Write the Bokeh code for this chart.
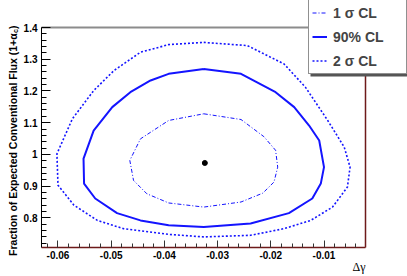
import math
from bokeh.plotting import figure
from bokeh.models import FixedTicker, Label, Legend, LegendItem, BoxAnnotation
from bokeh.embed import file_html
from bokeh.resources import INLINE

# ---- data ----
sig1_x = [-0.0326, -0.0256, -0.0213, -0.0191, -0.0187, -0.0194, -0.0215, -0.0256,
          -0.0326, -0.0392, -0.0433, -0.0458, -0.0465, -0.0445, -0.0392, -0.0326]
sig1_y = [1.128, 1.110, 1.056, 1.013, 0.960, 0.913, 0.878, 0.850,
          0.834, 0.847, 0.876, 0.918, 0.981, 1.049, 1.107, 1.128]

cl90_x = [-0.0326, -0.0256, -0.0191, -0.0156, -0.0128, -0.0109, -0.0100, -0.0106,
          -0.0122, -0.0166, -0.0238, -0.0326, -0.0392, -0.0445, -0.0489, -0.0530,
          -0.0551, -0.0552, -0.0533, -0.0498, -0.0464, -0.0426, -0.0392, -0.0326]
cl90_y = [1.269, 1.254, 1.196, 1.149, 1.091, 1.044, 0.960, 0.908,
          0.861, 0.815, 0.782, 0.771, 0.777, 0.792, 0.815, 0.861,
          0.908, 0.987, 1.075, 1.149, 1.196, 1.233, 1.254, 1.269]

sig2_x = [-0.0326, -0.0244, -0.0175, -0.0135, -0.0093, -0.0062, -0.0051, -0.0056,
          -0.0084, -0.0125, -0.0175, -0.0238, -0.0326, -0.0392, -0.0477, -0.0526,
          -0.0570, -0.0600, -0.0602, -0.0573, -0.0533, -0.0495, -0.0445, -0.0392, -0.0326]
sig2_y = [1.353, 1.343, 1.285, 1.212, 1.107, 1.023, 0.960, 0.897,
          0.834, 0.792, 0.766, 0.745, 0.740, 0.748, 0.766, 0.792,
          0.840, 0.903, 1.002, 1.112, 1.201, 1.264, 1.322, 1.346, 1.353]

best_x = [-0.0324]
best_y = [0.973]

x_ticks = [-0.06, -0.05, -0.04, -0.03, -0.02, -0.01]
x_tick_labels = ["-0.06", "-0.05", "-0.04", "-0.03", "-0.02", "-0.01"]
y_ticks = [0.8, 0.9, 1.0, 1.1, 1.2, 1.3, 1.4]
y_tick_labels = ["0.8", "0.9", "1", "1.1", "1.2", "1.3", "1.4"]
x_minor = [round(-0.062 + 0.002 * i, 4) for i in range(30)]
y_minor = [round(0.72 + 0.02 * i, 4) for i in range(34)]

legend_labels = ["1 \u03c3 CL", "90% CL", "2 \u03c3 CL"]
x_title = "\u0394\u03b3"
y_title_main = "Fraction of Expected Conventional Flux (1+\u03b1"
y_title_sub = "c"
y_title_end = ")"

# plotted box (axis ranges of the original)
X0, X1 = -0.0631, -0.0022
Y0, Y1 = 0.7066, 1.4

# layout in pixels: figure size, box edges inside the figure
W, H = 407, 276
BOX_L, BOX_R, BOX_T, BOX_B = 41, 365, 27, 247
px_x = (BOX_R - BOX_L) / (X1 - X0)
px_y = (BOX_B - BOX_T) / (Y1 - Y0)
xr = (X0 - BOX_L / px_x, X1 + (W - BOX_R) / px_x)
yr = (Y0 - (H - BOX_B) / px_y, Y1 + BOX_T / px_y)

blue = "#1414ff"
dark_red = "#6e1a1a"
frame_gray = "#8c8c8c"
font = "Liberation Sans"

p = figure(width=W, height=H, x_range=xr, y_range=yr,
           output_backend="svg", toolbar_location=None,
           min_border=0, min_border_left=0, min_border_right=0,
           min_border_top=0, min_border_bottom=0)
p.outline_line_color = None
p.xgrid.visible = False
p.ygrid.visible = False
p.background_fill_color = "white"
p.border_fill_color = "white"

# axes, drawn at the box edges
xa = p.xaxis[0]
xa.fixed_location = Y0
xa.bounds = (X0, X1)
xa.ticker = FixedTicker(ticks=x_ticks, minor_ticks=x_minor)
xa.major_label_overrides = dict(zip(x_ticks, x_tick_labels))
xa.axis_line_color = dark_red
xa.axis_line_width = 1.5
xa.major_tick_line_color = "#333333"
xa.minor_tick_line_color = "#333333"
xa.major_tick_in = 7
xa.major_tick_out = 0
xa.minor_tick_in = 4
xa.minor_tick_out = 0
xa.major_label_standoff = 3
xa.major_label_text_font = font
xa.major_label_text_font_style = "bold"
xa.major_label_text_font_size = "10px"
xa.major_label_text_color = "black"

ya = p.yaxis[0]
ya.fixed_location = X0
ya.bounds = (Y0, Y1)
ya.ticker = FixedTicker(ticks=y_ticks, minor_ticks=y_minor)
ya.major_label_overrides = dict(zip(y_ticks, y_tick_labels))
ya.axis_line_color = "black"
ya.major_tick_line_color = "black"
ya.minor_tick_line_color = "black"
ya.major_tick_in = 9
ya.major_tick_out = 0
ya.minor_tick_in = 5
ya.minor_tick_out = 0
ya.major_label_standoff = 4
ya.major_label_text_font = font
ya.major_label_text_font_style = "bold"
ya.major_label_text_font_size = "10px"
ya.major_label_text_color = "black"

# top and right box edges
p.segment(x0=[X0], y0=[Y1], x1=[X1], y1=[Y1], line_color=frame_gray, line_width=2)
p.segment(x0=[X1], y0=[Y0], x1=[X1], y1=[Y1], line_color=dark_red, line_width=1.5)

# contours
r1 = p.line(sig1_x, sig1_y, line_color=blue, line_width=1, line_dash="4 2 1 2")
r2 = p.line(cl90_x, cl90_y, line_color=blue, line_width=2)
r3 = p.line(sig2_x, sig2_y, line_color=blue, line_width=1.6, line_dash="2 2")
p.scatter(best_x, best_y, size=5, color="black")

# axis titles
p.add_layout(Label(x=X1, y=Y0 - 12 / px_y, text=x_title, text_align="right",
                   text_baseline="top", text_font="Liberation Serif",
                   text_font_size="12px", text_color="black"))
top = Y1 + 2 / px_y
xlab = X0 - 28.5 / px_x
p.add_layout(Label(x=xlab, y=top, text=y_title_end, angle=math.pi / 2,
                   text_align="right", text_baseline="middle",
                   text_font=font, text_font_style="bold",
                   text_font_size="10.5px", text_color="black"))
p.add_layout(Label(x=xlab + 2.5 / px_x, y=top - 3.6 / px_y, text=y_title_sub, angle=math.pi / 2,
                   text_align="right", text_baseline="middle",
                   text_font=font, text_font_style="bold",
                   text_font_size="7px", text_color="black"))
p.add_layout(Label(x=xlab, y=top - 7.8 / px_y, text=y_title_main, angle=math.pi / 2,
                   text_align="right", text_baseline="middle",
                   text_font=font, text_font_style="bold",
                   text_font_size="10.5px", text_color="black"))

# legend (with a small shadow)
LG_L, LG_T, LG_W, LG_H = 308, 1, 97, 73
p.add_layout(BoxAnnotation(left=xr[0] + (LG_L + 2) / px_x, right=xr[0] + (LG_L + LG_W + 2) / px_x,
                           top=yr[1] - (LG_T + 2) / px_y, bottom=yr[1] - (LG_T + LG_H + 2) / px_y,
                           fill_color="#555555", fill_alpha=1.0, line_color=None))
legend = Legend(items=[LegendItem(label=legend_labels[0], renderers=[r1]),
                       LegendItem(label=legend_labels[1], renderers=[r2]),
                       LegendItem(label=legend_labels[2], renderers=[r3])],
                location=(LG_L, H - LG_T - LG_H), margin=0, padding=3, spacing=5,
                glyph_width=15, glyph_height=19, label_height=19, label_width=LG_W - 27,
                label_standoff=6, label_text_font=font,
                label_text_font_style="bold", label_text_font_size="14px",
                border_line_color="#222222", border_line_width=1,
                background_fill_color="white", background_fill_alpha=1.0)
p.add_layout(legend)

open("out.html", "w").write(file_html(p, INLINE))
